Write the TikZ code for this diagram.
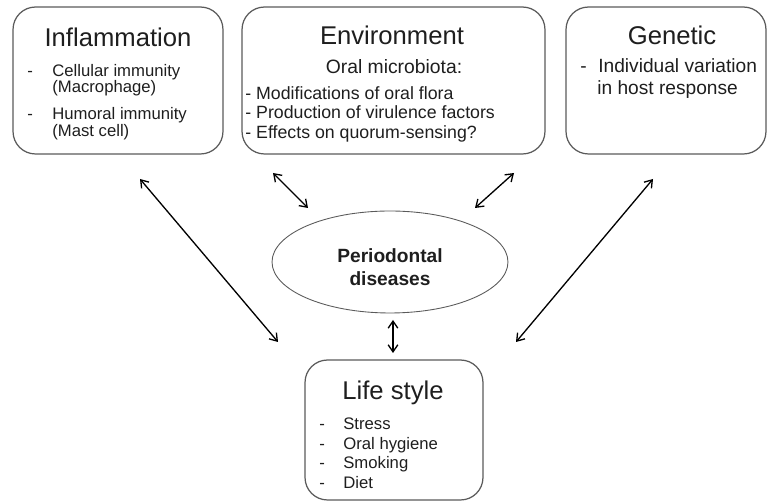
\documentclass[tikz,border=0pt]{standalone}
\usepackage{fontspec}
\setmainfont{Liberation Sans}
\usetikzlibrary{arrows.meta, shapes.geometric, positioning}
\definecolor{boxgray}{RGB}{90, 90, 90}
\definecolor{inkgray}{RGB}{30, 30, 30}

\begin{document}
\begin{tikzpicture}[x=0.02cm, y=-0.02cm,
    factorbox/.style={draw=boxgray, line width=0.7pt, rounded corners=0.45cm, inner sep=0pt},
    headtext/.style={text=inkgray, inner sep=0pt, font=\fontsize{14.6}{17}\selectfont},
    itemtext/.style={text=inkgray, inner sep=0pt, anchor=west, text height=1.6ex, text depth=0.4ex, font=\fontsize{9.5}{11}\selectfont},
    link/.style={{Straight Barb[length=4pt,width=5.5pt]}-{Straight Barb[length=4pt,width=5.5pt]}, line width=0.75pt, black}]
    \useasboundingbox (0,0) rectangle (768,502);

    % Factor boxes
    \node[factorbox, minimum width=4.2cm, minimum height=2.94cm] (infl) at (118,80.5) {};
    \node[factorbox, minimum width=6.06cm, minimum height=2.94cm] (env) at (393.5,80.5) {};
    \node[factorbox, minimum width=4cm, minimum height=2.94cm] (gen) at (666,80.5) {};
    \node[factorbox, minimum width=3.56cm, minimum height=2.8cm] (life) at (394,430) {};

    % Central disease
    \node[ellipse, draw=boxgray, line width=0.5pt, minimum width=4.72cm, minimum height=2.04cm, inner sep=0pt] (perio) at (390,262) {};
    \node[text=inkgray, inner sep=0pt, align=center, font=\bfseries\fontsize{10.9}{13}\selectfont] (periotext) at (390,267) {Periodontal\\diseases};

    % Inflammation
    \node[headtext] (infltitle) at (118,37) {Inflammation};
    \foreach \y/\t [count=\i] in {71/Cellular immunity, 87/(Macrophage), 114/Humoral immunity, 131/(Mast cell)} {
        \node[itemtext] (infl\i) at (52,\y) {\t};
    }
    \node[itemtext] (infldash1) at (27,71) {-};
    \node[itemtext] (infldash2) at (27,114) {-};

    % Environment
    \node[headtext] (envtitle) at (392,35) {Environment};
    \node[text=inkgray, inner sep=0pt, font=\fontsize{11}{13}\selectfont] (envsub) at (394,67) {Oral microbiota:};
    \foreach \y/\t [count=\i] in {94/Modifications of oral flora, 113/Production of virulence factors, 133/Effects on quorum-sensing?} {
        \node[itemtext, font=\fontsize{10.1}{12}\selectfont] (env\i) at (245,\y) {- \t};
    }

    % Genetic
    \node[headtext] (gentitle) at (672,35) {Genetic};
    \node[itemtext, font=\fontsize{10.9}{13}\selectfont] (gendash) at (580,67) {-};
    \node[itemtext, font=\fontsize{10.9}{13}\selectfont] (gen1) at (598,67) {Individual variation};
    \node[itemtext, font=\fontsize{10.9}{13}\selectfont] (gen2) at (597,89) {in host response};

    % Life style
    \node[headtext] (lifetitle) at (393,393) {Life style};
    \foreach \y/\t [count=\i] in {424/Stress, 444/Oral hygiene, 463/Smoking, 483/Diet} {
        \node[itemtext] (lifedash\i) at (319,\y) {-};
        \node[itemtext] (life\i) at (343,\y) {\t};
    }

    % Arrow ends
    \coordinate (la) at (140,179);
    \coordinate (lb) at (278,342);
    \coordinate (ula) at (273,173);
    \coordinate (ulb) at (308,208);
    \coordinate (ura) at (514,173);
    \coordinate (urb) at (475,208);
    \coordinate (ra) at (653,179);
    \coordinate (rb) at (516,342);
    \coordinate (va) at (393,320);
    \coordinate (vb) at (393,353);

    % Interactions
    \draw[link] (la) -- (lb);
    \draw[link] (ula) -- (ulb);
    \draw[link] (ura) -- (urb);
    \draw[link] (ra) -- (rb);
    \draw[link] (va) -- (vb);
\end{tikzpicture}
\end{document}
